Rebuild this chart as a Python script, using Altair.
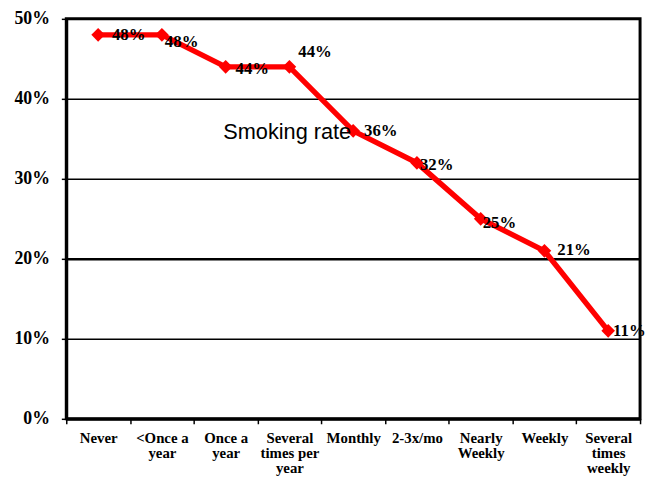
import altair as alt
import pandas as pd

categories = ["Never", "<Once a\nyear", "Once a\nyear", "Several\ntimes per\nyear",
              "Monthly", "2-3x/mo", "Nearly\nWeekly", "Weekly", "Several\ntimes\nweekly"]
smoking_rate = [0.48, 0.48, 0.44, 0.44, 0.36, 0.32, 0.25, 0.21, 0.11]
series_name = "Smoking rate"
y_ticks = [0, 0.1, 0.2, 0.3, 0.4, 0.5]

df = pd.DataFrame({
    "idx": list(range(len(categories))),
    "cat": categories,
    "rate": smoking_rate,
    "series": [series_name] * len(categories),
})

x_enc = alt.X("cat:N", sort=categories, bandPosition=0.5,
              scale=alt.Scale(type="band", paddingInner=0, paddingOuter=0),
              axis=alt.Axis(title=None, labelAngle=0, grid=False,
                            labelExpr="split(datum.label, '\\n')",
                            labelFont="Liberation Serif", labelFontWeight="bold",
                            labelFontSize=15, labelLineHeight=15, labelColor="black",
                            labelPadding=7, labelBaseline="top",
                            tickBand="extent", tickSize=5, tickColor="black", tickWidth=1.5,
                            domainColor="black", domainWidth=3))
y_enc = alt.Y("rate:Q", scale=alt.Scale(domain=[0, 0.5], nice=False),
              axis=alt.Axis(title=None, values=y_ticks, format=".0%",
                            labelFont="Liberation Serif", labelFontWeight="bold",
                            labelFontSize=18, labelColor="black", labelPadding=12,
                            tickSize=5, tickColor="black", tickWidth=1.5,
                            domainColor="black", domainWidth=3,
                            gridColor="black", gridOpacity=1,
                            gridWidth=alt.condition("datum.value == 0.2", alt.value(2.5), alt.value(1.5))))

base = alt.Chart(df).encode(x=x_enc, y=y_enc)

line = base.mark_line(color="#FF0000", strokeWidth=5.5)
points = base.mark_point(shape="diamond", filled=True, color="#FF0000", size=190, opacity=1)

offsets = [(14, 0), (3, 7), (10, 2), (9, -15), (11, 0), (3, 2), (2, 4), (13, -1), (5, 0)]
labels = []
for i, (dx, dy) in enumerate(offsets):
    labels.append(
        base.transform_filter(alt.datum.idx == i).mark_text(
            align="left", baseline="middle", dx=dx, dy=dy,
            font="Liberation Serif", fontWeight="bold", fontSize=17, color="black"
        ).encode(text=alt.Text("rate:Q", format=".0%"))
    )

series_label = base.transform_filter(alt.datum.idx == 4).mark_text(
    align="right", baseline="middle", dx=-2, dy=1,
    font="Liberation Sans", fontSize=22, color="black"
).encode(text="series:N")

chart = alt.layer(line, points, series_label, *labels).properties(
    width=581, height=405,
    autosize=alt.AutoSizeParams(type="none"),
    padding={"left": 59, "top": 8, "right": 5, "bottom": 62},
    background="white",
).configure_view(stroke="black", strokeWidth=3)

chart.save("out.html", embed_options={"renderer": "svg", "actions": False})
